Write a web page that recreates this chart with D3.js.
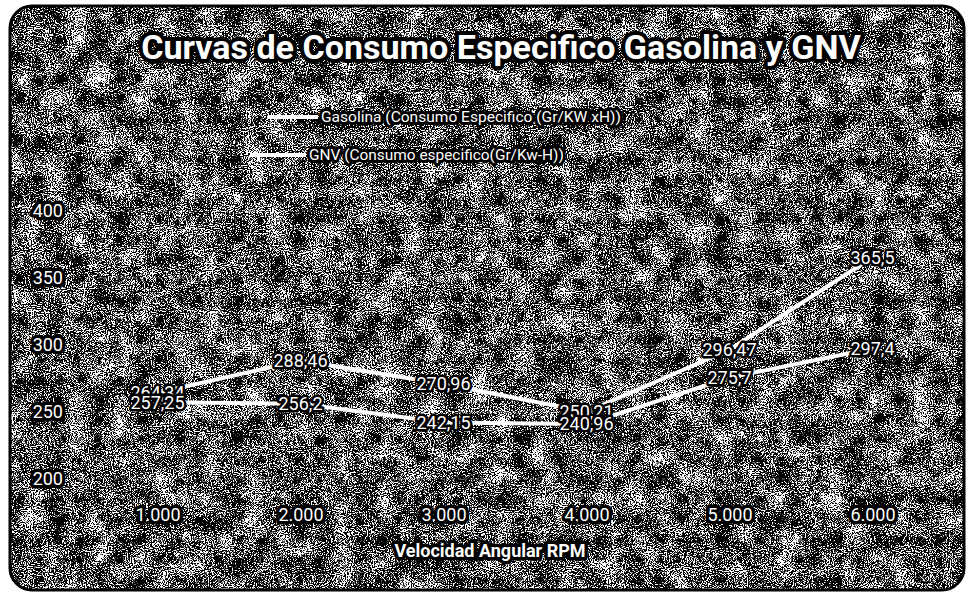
<!DOCTYPE html>
<html>
<head>
<meta charset="utf-8">
<script src="https://cdn.jsdelivr.net/npm/d3@7/dist/d3.min.js"></script>
<style>
  html, body { margin: 0; padding: 0; background: #fff; }
  svg { display: block; }
  text { font-family: Roboto, "Liberation Sans", sans-serif; fill: #fff; }
  .halo { paint-order: stroke; stroke: #000; stroke-linejoin: round; }
</style>
</head>
<body>
<svg id="chart" width="967" height="598"></svg>
<script>
// Specific consumption curves, petrol vs natural gas
const chartTitle = "Curvas de Consumo Especifico Gasolina y GNV";
const axisTitle = "Velocidad Angular RPM";
const categories = ["1.000", "2.000", "3.000", "4.000", "5.000", "6.000"];
const gasolina = [264.34, 288.46, 270.96, 250.21, 296.47, 365.5];
const gnv = [257.25, 256.2, 242.15, 240.96, 275.7, 297.4];
const seriesNames = [
  "Gasolina (Consumo Especifico (Gr/KW xH))",
  "GNV (Consumo especifico(Gr/Kw-H))"
];
const yTicks = [200, 250, 300, 350, 400];

const W = 967, H = 598;
const svg = d3.select("#chart");
const defs = svg.append("defs");

// grainy photocopy texture: fine speckle lightly modulated by a cloud pattern
const f = defs.append("filter").attr("id", "grain")
  .attr("filterUnits", "userSpaceOnUse")
  .attr("x", 0).attr("y", 0).attr("width", W).attr("height", H)
  .attr("color-interpolation-filters", "sRGB");
f.append("feTurbulence").attr("type", "fractalNoise").attr("baseFrequency", 0.95)
  .attr("numOctaves", 2).attr("seed", 11).attr("result", "fine");
f.append("feTurbulence").attr("type", "fractalNoise").attr("baseFrequency", 0.045)
  .attr("numOctaves", 2).attr("seed", 4).attr("result", "coarse");
f.append("feColorMatrix").attr("in", "fine").attr("type", "matrix")
  .attr("values", "1 0 0 0 0  1 0 0 0 0  1 0 0 0 0  0 0 0 0 1").attr("result", "fineG");
f.append("feColorMatrix").attr("in", "coarse").attr("type", "matrix")
  .attr("values", "1 0 0 0 0  1 0 0 0 0  1 0 0 0 0  0 0 0 0 1").attr("result", "coarseG");
f.append("feComposite").attr("in", "fineG").attr("in2", "coarseG")
  .attr("operator", "arithmetic").attr("k1", 0).attr("k2", 1.0).attr("k3", 0.35).attr("k4", -0.19)
  .attr("result", "mix");
const ct = f.append("feComponentTransfer").attr("in", "mix");
const table = "0 0 0 0 0 0 0 0 0 0 0.4 1 1 1 1 1 1 1 1 1";
["feFuncR", "feFuncG", "feFuncB"].forEach(n => ct.append(n).attr("type", "discrete").attr("tableValues", table));

const frame = { x: 10, y: 6, w: 954, h: 584, r: 22 };
defs.append("clipPath").attr("id", "frameClip").append("rect")
  .attr("x", frame.x).attr("y", frame.y).attr("width", frame.w).attr("height", frame.h)
  .attr("rx", frame.r);

svg.append("g").attr("clip-path", "url(#frameClip)")
  .append("rect").attr("x", 0).attr("y", 0).attr("width", W).attr("height", H)
  .attr("fill", "#000").attr("filter", "url(#grain)");
svg.append("rect")
  .attr("x", frame.x).attr("y", frame.y).attr("width", frame.w).attr("height", frame.h)
  .attr("rx", frame.r).attr("fill", "none").attr("stroke", "#000").attr("stroke-width", 3);

// scales
const x = d3.scalePoint().domain(categories).range([86, 944]).padding(0.5);
const y = d3.scaleLinear().domain([200, 400]).range([479, 211]);

// gridlines
svg.append("g").selectAll("line").data(yTicks).join("line")
  .attr("x1", 86).attr("x2", 944)
  .attr("y1", d => y(d)).attr("y2", d => y(d))
  .attr("stroke", "#e8e8e8").attr("stroke-opacity", 0.5)
  .attr("stroke-dasharray", "3,3").attr("stroke-width", 1.2);

// axes
const yAxis = svg.append("g").attr("transform", "translate(86,0)")
  .call(d3.axisLeft(y).tickValues(yTicks).tickSize(0).tickPadding(23));
const xAxis = svg.append("g").attr("transform", "translate(0,500)")
  .call(d3.axisBottom(x).tickSize(0).tickPadding(8));
[yAxis, xAxis].forEach(g => {
  g.select(".domain").remove();
  g.selectAll("text").attr("class", "halo")
    .attr("font-family", "Roboto, sans-serif").attr("font-size", 18)
    .attr("fill", "#fff").attr("stroke-width", 7);
});

// series lines
const line = d3.line().x((d, i) => x(categories[i])).y(d => y(d));
[gasolina, gnv].forEach(vals => {
  svg.append("path").datum(vals).attr("d", line)
    .attr("fill", "none").attr("stroke", "#fff").attr("stroke-width", 4)
    .attr("stroke-linejoin", "round").attr("stroke-linecap", "round");
});

// value labels, centred on each point
const fmt = v => String(v).replace(".", ",");
[gasolina, gnv].forEach(vals => {
  svg.append("g").selectAll("text").data(vals).join("text")
    .attr("class", "halo")
    .attr("x", (d, i) => x(categories[i]))
    .attr("y", d => y(d))
    .attr("dy", "0.35em")
    .attr("text-anchor", "middle")
    .attr("font-size", 18)
    .attr("stroke-width", 5)
    .text(fmt);
});

// legend, each entry fitted to its width
const legend = [
  { name: seriesNames[0], x1: 268, x2: 318, y: 117, w: 300 },
  { name: seriesNames[1], x1: 250, x2: 306, y: 155, w: 255 }
];
legend.forEach(l => {
  svg.append("line").attr("x1", l.x1).attr("x2", l.x2).attr("y1", l.y).attr("y2", l.y)
    .attr("stroke", "#fff").attr("stroke-width", 4);
  const t = svg.append("text").attr("class", "halo")
    .attr("x", l.x2 + 3).attr("y", l.y).attr("dy", "0.35em")
    .attr("font-size", 18).attr("stroke-width", 6)
    .text(l.name);
  t.attr("font-size", 18 * l.w / t.node().getComputedTextLength());
});

// title, fitted to its width
const title = svg.append("text").attr("class", "halo")
  .attr("x", 501).attr("y", 47).attr("dy", "0.35em")
  .attr("text-anchor", "middle").attr("font-weight", "bold")
  .attr("font-size", 34).attr("stroke-width", 8)
  .text(chartTitle);
const tw = title.node().getComputedTextLength();
title.attr("font-size", 34 * 720 / tw);

svg.append("text").attr("class", "halo")
  .attr("x", 490).attr("y", 551).attr("dy", "0.35em")
  .attr("text-anchor", "middle").attr("font-weight", "bold")
  .attr("font-size", 18).attr("stroke-width", 7)
  .text(axisTitle);
</script>
</body>
</html>
